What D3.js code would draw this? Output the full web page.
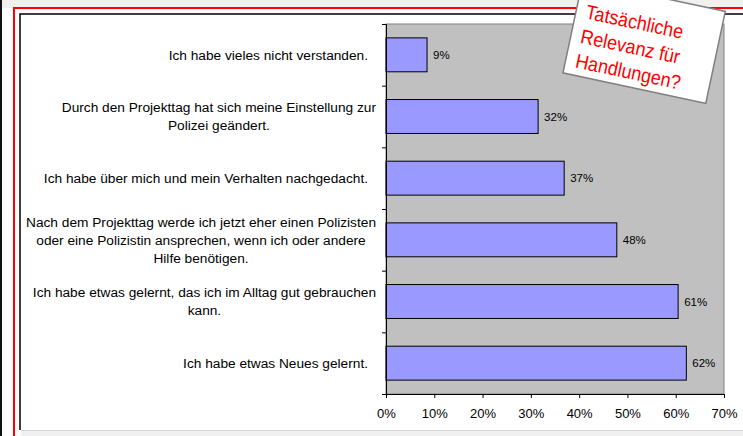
<!DOCTYPE html>
<html>
<head>
<meta charset="utf-8">
<script src="https://cdn.jsdelivr.net/npm/d3@7"></script>
<style>
  body { margin: 0; background: #fff; }
  svg { display: block; }
  text { font-family: "Liberation Sans", Arial, sans-serif; fill: #000; }
</style>
</head>
<body>
<script>
// data
var categories = [
    ['Ich habe vieles nicht verstanden.'],
    ['Durch den Projekttag hat sich meine Einstellung zur', 'Polizei geändert.'],
    ['Ich habe über mich und mein Verhalten nachgedacht.'],
    ['Nach dem Projekttag werde ich jetzt eher einen Polizisten', 'oder eine Polizistin ansprechen, wenn ich oder andere', 'Hilfe benötigen.'],
    ['Ich habe etwas gelernt, das ich im Alltag gut gebrauchen', 'kann.'],
    ['Ich habe etwas Neues gelernt.']
];
var values = [8.5, 31.5, 36.9, 47.8, 60.5, 62.2];
var xTicks = [0, 10, 20, 30, 40, 50, 60, 70];
var noteLines = ['Tatsächliche', 'Relevanz für', 'Handlungen?'];

// init
var width  = 743,
    height = 436,
    plot   = { left: 386, right: 724, top: 24, bottom: 394 };

var svg = d3.select('body')
    .append('svg')
    .attr('width', width)
    .attr('height', height);

// page frame
svg.append('rect').attr('width', width).attr('height', height).attr('fill', '#f0f0f0');
svg.append('rect').attr('x', 2).attr('y', 8).attr('width', width).attr('height', 422).attr('fill', '#fff');
svg.append('rect').attr('x', 2).attr('y', 430).attr('width', 19).attr('height', 6).attr('fill', '#fff');
svg.append('rect').attr('x', 0).attr('y', 0).attr('width', 2).attr('height', height).attr('fill', '#111');
svg.append('path')
    .attr('d', 'M14,' + height + 'V8H' + width)
    .attr('fill', 'none').attr('stroke', '#ff0000').attr('stroke-width', 2);
svg.append('path')
    .attr('d', 'M20,430V14H' + width)
    .attr('fill', 'none').attr('stroke', '#000').attr('stroke-width', 1.5);
svg.append('line')
    .attr('x1', 21).attr('x2', width).attr('y1', 430.5).attr('y2', 430.5)
    .attr('stroke', '#d8d8d8');

// scales
var xScale = d3.scaleLinear().domain([0, 70]).range([plot.left, plot.right]);
var yScale = d3.scaleBand()
    .domain(d3.range(categories.length))
    .range([plot.top, plot.bottom])
    .paddingInner(0.45)
    .paddingOuter(0.225);

// plot area
svg.append('rect')
    .attr('x', plot.left).attr('y', plot.top)
    .attr('width', plot.right - plot.left).attr('height', plot.bottom - plot.top)
    .attr('fill', '#c0c0c0').attr('stroke', '#808080').attr('stroke-width', 1);

// bars
svg.append('g')
    .selectAll('rect')
    .data(values)
    .join('rect')
    .attr('x', xScale(0))
    .attr('y', (d, i) => yScale(i))
    .attr('width', d => xScale(d) - xScale(0))
    .attr('height', yScale.bandwidth())
    .attr('fill', '#9999ff')
    .attr('stroke', '#000')
    .attr('stroke-width', 1);

// data labels
svg.append('g')
    .selectAll('text')
    .data(values)
    .join('text')
    .attr('x', d => xScale(d) + 6)
    .attr('y', (d, i) => yScale(i) + yScale.bandwidth() / 2)
    .attr('dy', '0.35em')
    .attr('font-size', 11.5)
    .text(d => Math.round(d) + '%');

// x-axis
var xAxis = d3.axisBottom(xScale)
    .tickValues(xTicks)
    .tickSize(4)
    .tickFormat(d => d + '%');
var gx = svg.append('g')
    .attr('transform', 'translate(0,' + plot.bottom + ')')
    .call(xAxis);
gx.select('.domain').attr('stroke', '#000');
gx.selectAll('.tick text')
    .attr('font-family', '"Liberation Sans", Arial, sans-serif')
    .attr('font-size', 13)
    .attr('fill', '#000')
    .attr('dy', '1.3em');

// y-axis (ticks on category boundaries)
var yEdge = d3.scaleLinear().domain([0, categories.length]).range([plot.top, plot.bottom]);
var yAxis = d3.axisLeft(yEdge)
    .tickValues(d3.range(categories.length + 1))
    .tickSize(4)
    .tickFormat('');
var gy = svg.append('g')
    .attr('transform', 'translate(' + plot.left + ',0)')
    .call(yAxis);
gy.select('.domain').attr('stroke', '#000');

// category labels
var lineH = 18,
    fs    = 13.7;
var labels = svg.append('g')
    .selectAll('text')
    .data(categories)
    .join('text')
    .attr('font-size', fs)
    .attr('text-anchor', 'middle')
    .attr('y', (d, i) => yScale(i) + yScale.bandwidth() / 2);

labels.each(function (lines) {
    var t = d3.select(this);
    lines.forEach(function (s, k) {
        t.append('tspan').text(s)
            .attr('dy', k === 0 ? (0.35 * fs - (lines.length - 1) / 2 * lineH) + 'px' : lineH + 'px');
    });
    var w = d3.max(t.selectAll('tspan').nodes(), n => n.getComputedTextLength());
    var right = lines.length > 1 ? 376 : 368;
    t.selectAll('tspan').attr('x', right - w / 2);
});

// note
var note = svg.append('g')
    .attr('transform', 'translate(582.5,-19) rotate(12)');
note.append('rect')
    .attr('width', 146).attr('height', 94)
    .attr('fill', '#fff').attr('stroke', '#7f7f7f').attr('stroke-width', 1.5);
note.selectAll('text')
    .data(noteLines)
    .join('text')
    .attr('x', 10)
    .attr('y', (d, i) => 36 + i * 25)
    .attr('font-family', 'Carlito, Lato, "Open Sans", sans-serif')
    .attr('font-size', 20)
    .attr('textLength', function () { return null; })
    .style('fill', '#ff0000')
    .text(d => d)
    .each(function () {
        // squeeze to a Calibri-like width
        var w = this.getComputedTextLength();
        d3.select(this).attr('textLength', w * 0.9).attr('lengthAdjust', 'spacingAndGlyphs');
    });
</script>
</body>
</html>
